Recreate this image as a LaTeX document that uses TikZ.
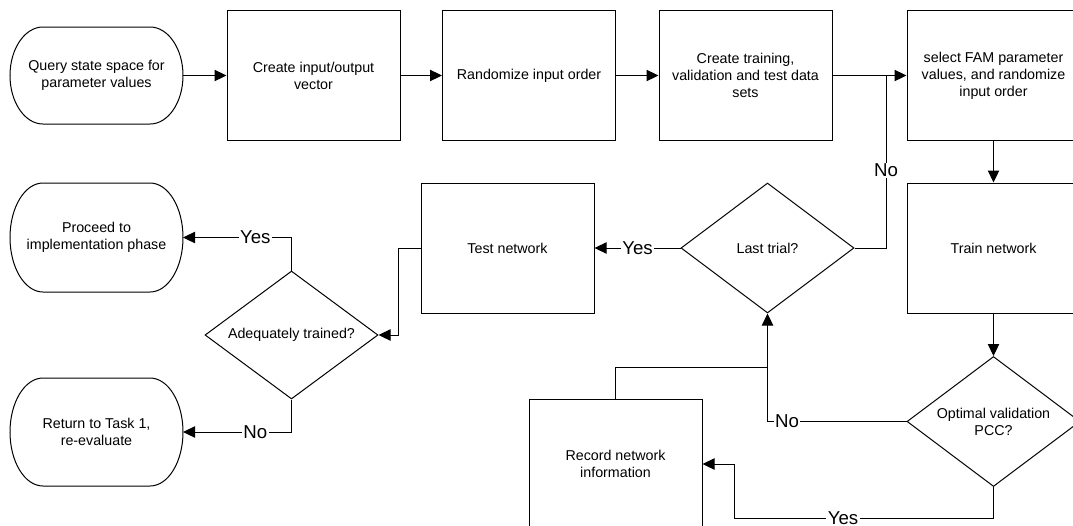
\documentclass[tikz,border=0pt]{standalone}
\usepackage{fontspec}
\setmainfont{Liberation Sans}
\usetikzlibrary{arrows.meta,shapes.geometric}

\begin{document}
\begin{tikzpicture}[x=0.75pt,y=-0.75pt,line width=0.75pt,
  every node/.style={font=\fontsize{10.7}{12.75}\selectfont,align=center},
  box/.style={draw,rectangle,minimum width=129.75pt,minimum height=97.5pt,inner sep=2pt},
  term/.style={rectangle,minimum width=129.75pt,inner sep=2pt,outer sep=0pt},
  decide/.style={draw,diamond,aspect=1.33,minimum width=129.75pt,minimum height=97.5pt,inner sep=0pt},
  arr/.style={-{Triangle[length=9pt,width=8.5pt]}},
  lbl/.style={fill=white,inner sep=1pt,font=\fontsize{14}{16}\selectfont}]
  \path[use as bounding box,clip] (0,0) rectangle (1073,525);
  \fill[white] (0,0) rectangle (1073,525);

  % top row
  \node[term,minimum height=72.75pt] (start) at (96.5,75.5) {Query state space for\\parameter values};
  \node[box] (vec)  at (313.5,75.5) {Create input/output\\vector};
  \node[box] (rand) at (529,75.5)   {Randomize input order};
  \node[box] (sets) at (745.5,75.5) {Create training,\\validation and test data\\sets};
  \node[box] (fam)  at (993.5,75.5) {select FAM parameter\\values, and randomize\\input order};

  % training loop
  \node[box] (train)   at (993.5,248)   {Train network};
  \node[decide] (optim) at (993.5,421.5) {Optimal validation\\PCC?};
  \node[decide] (last)  at (767.5,248)   {Last trial?};
  \node[box] (test)    at (507.5,248)   {Test network};
  \node[box] (rec)     at (615.5,464)   {Record network\\information};

  % outcome
  \node[decide,minimum height=96pt] (adeq) at (291.5,335) {Adequately trained?};
  \node[term,minimum height=81.75pt] (proceed) at (96.5,237.5) {Proceed to\\implementation phase};
  \node[term,minimum height=81pt] (back) at (96.5,432) {Return to Task 1,\\re-evaluate};

  % terminal outlines with elliptical ends
  \foreach \t/\ry in {start/36.375pt,proceed/40.875pt,back/40.5pt} {
    \draw ([xshift=24.75pt]\t.north west) -- ([xshift=-24.75pt]\t.north east)
      arc[start angle=90,end angle=-90,x radius=24.75pt,y radius=\ry]
      -- ([xshift=24.75pt]\t.south west)
      arc[start angle=270,end angle=90,x radius=24.75pt,y radius=\ry] -- cycle;
  }

  \coordinate (merge) at (886,75.5);
  \coordinate (tie)   at (767.5,367);
  \coordinate (bend)  at (734,518);

  \draw[arr] (start.east) -- (vec.west);
  \draw[arr] (vec.east) -- (rand.west);
  \draw[arr] (rand.east) -- (sets.west);
  \draw[arr] (sets.east) -- (fam.west);
  \draw[arr] (fam.south) -- (train.north);
  \draw[arr] (train.south) -- (optim.north);
  \draw[arr] (optim.west) -| node[lbl,pos=0.43] {No} (last.south);
  \draw (rec.north) |- (tie);
  \draw[arr] (optim.south) |- node[lbl,pos=0.79] {Yes} (bend) |- (rec.east);
  \draw[arr] (last.west) -- node[lbl] {Yes} (test.east);
  \draw (last.east) -| node[lbl,pos=0.725] {No} (merge);
  \draw[arr] (test.west) -- ++(-22,0) |- (adeq.east);
  \draw[arr] (adeq.north) |- node[lbl,pos=0.667] {Yes} (proceed.east);
  \draw[arr] (adeq.south) |- node[lbl,pos=0.667] {No} (back.east);
\end{tikzpicture}
\end{document}
